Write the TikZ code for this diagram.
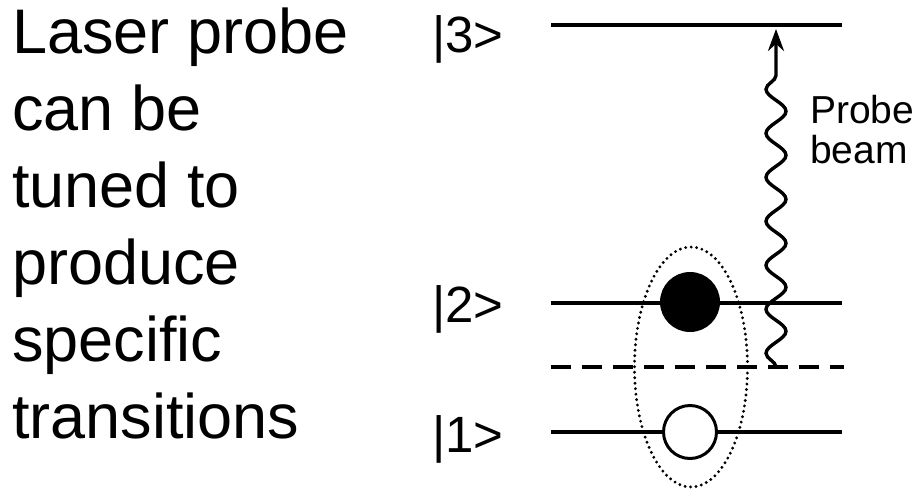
\documentclass[tikz,border=0pt]{standalone}
\usepackage{fontspec}
\setmainfont{Liberation Sans}
\usetikzlibrary{decorations.pathmorphing,arrows.meta,calc,shapes.geometric}

\tikzset{
  level/.style={line width=3.3pt, line cap=butt},
  virtual/.style={line width=3.6pt, dash pattern=on 20pt off 11pt},
  ketlabel/.style={anchor=base west, inner sep=0pt, font=\fontsize{51}{60}\selectfont},
  electron/.style={circle, draw, line width=3pt, inner sep=0pt},
  wave/.style={line width=3.4pt, decorate,
    decoration={snake, amplitude=10pt, segment length=44pt, post length=26pt}},
}

\begin{document}
\begin{tikzpicture}[x=1pt, y=-1pt]
  \useasboundingbox (0,0) rectangle (920,490);

  % explanatory text on the left
  \node[anchor=north west, inner sep=0pt, align=left,
        font=\fontsize{63}{77}\selectfont] (caption) at (12,8)
    {Laser probe\\can be\\tuned to\\produce\\specific\\transitions};

  % energy levels
  \coordinate (l3a) at (551,25);  \coordinate (l3b) at (842,25);
  \coordinate (l2a) at (551,303); \coordinate (l2b) at (842,303);
  \coordinate (lva) at (551,367); \coordinate (lvb) at (844,367);
  \coordinate (l1a) at (551,432); \coordinate (l1b) at (842,432);
  \draw[level] (l3a) -- (l3b);
  \draw[level] (l2a) -- (l2b);
  \draw[virtual] (lva) -- (lvb);
  \draw[level] (l1a) -- (l1b);

  % state labels
  \node[ketlabel] (k3) at (432,52)  {|3>};
  \node[ketlabel] (k2) at (432,322) {|2>};
  \node[ketlabel] (k1) at (432,452) {|1>};

  % populations
  \node[electron, fill=black, minimum size=57pt] (full) at (690,302) {};
  \node[electron, fill=white, minimum size=53pt] (empty) at (690,432) {};

  % grouping of the two states
  \node[ellipse, draw, line width=3.2pt, line cap=round, dash pattern=on 0pt off 5.5pt,
        minimum width=113pt, minimum height=240pt, inner sep=0pt] (pair) at (691,367) {};

  % probe photon
  \coordinate (foot) at (776,367);
  \coordinate (tip) at (776,29);
  \draw[wave, -{Stealth[length=22pt, width=16pt]}] (foot) -- (tip);
  \node[anchor=base west, inner sep=0pt, align=left,
        font=\fontsize{39}{40}\selectfont] (beamlabel) at (810,163) {Probe\\beam};
\end{tikzpicture}
\end{document}
